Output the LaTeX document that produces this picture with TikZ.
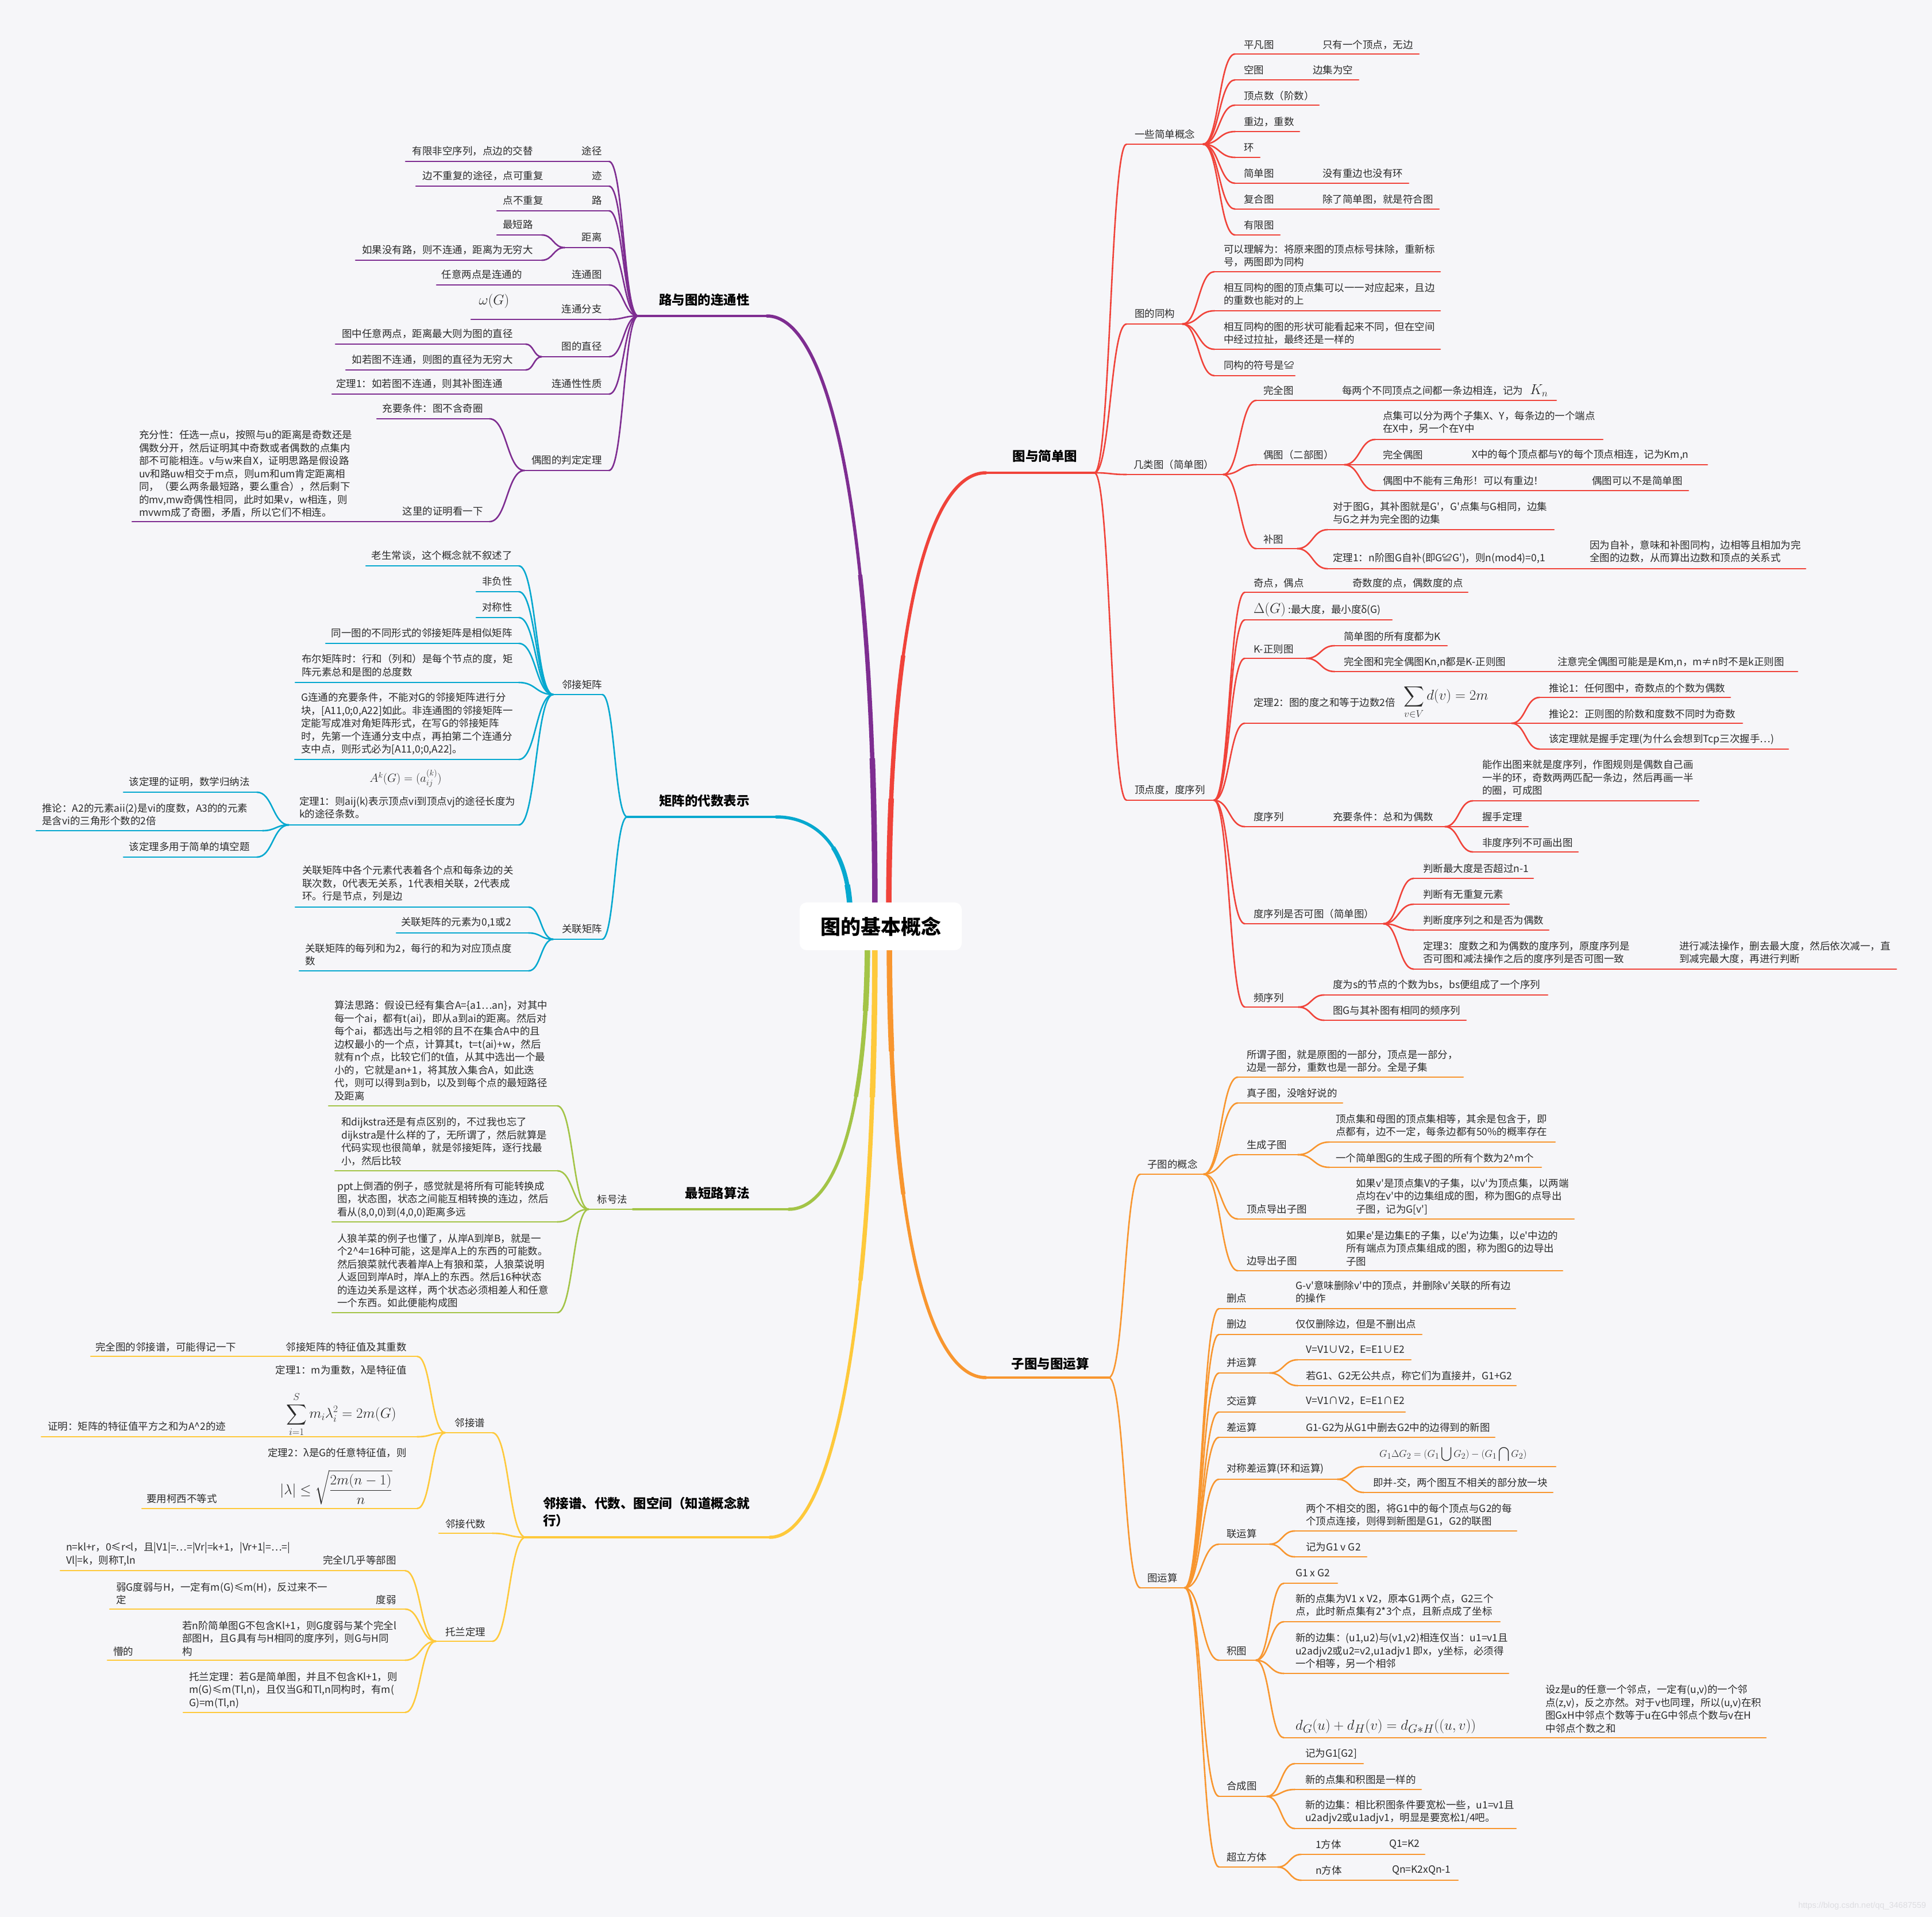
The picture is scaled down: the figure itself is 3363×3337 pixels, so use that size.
\documentclass[tikz,border=0pt]{standalone}
\usepackage{exscale}
\usepackage{fontspec}
\setmainfont{Noto Sans CJK SC}
\newfontfamily\wmfont{Liberation Sans}
\usetikzlibrary{calc}
\definecolor{cP}{HTML}{7E2D91}
\definecolor{cR}{HTML}{F0433A}
\definecolor{cC}{HTML}{06A8CF}
\definecolor{cG}{HTML}{A3C447}
\definecolor{cY}{HTML}{FEC93B}
\definecolor{cO}{HTML}{F8962F}
\definecolor{tx}{HTML}{2A2A2A}
\definecolor{bg}{HTML}{F6F6F9}
\definecolor{wmc}{HTML}{DDDDE1}
\tikzset{
  lf/.style={font=\fontsize{17.5}{22.5}\selectfont, text=tx, inner sep=0pt, align=left},
  tp/.style={font=\fontsize{22.5}{29.6}\selectfont\bfseries, text=black, inner sep=0pt, align=left},
  L/.style={line width=2.6pt, line cap=round},
  L1/.style={line width=4.2pt, line cap=round},
  mth/.style={text=tx, inner sep=0pt}
}
\newcommand\q{\textquotesingle}
\newcommand\MSeg[5]{\coordinate (#1s) at (#3,#5);\coordinate (#1e) at (#4,#5);\draw[#2] (#1s)--(#1e);}
\newcommand\MCn[3]{\draw[#1] let \p1=(#2),\p2=(#3) in (\p1) .. controls ({0.5*\x1+0.5*\x2},\y1) and ({0.5*\x1+0.5*\x2},\y2) .. (\p2);}
% main tapered branch: color, from, to, dash1, dash2
\newcommand\MMain[5]{%
\draw[#1,line width=5.5pt,line cap=round] let \p1=(#2),\p2=(#3) in (\p1) .. controls (\x1,{0.3*\y1+0.7*\y2}) and ({0.55*\x1+0.45*\x2},\y2) .. (\p2);
\draw[#1,line width=7.5pt,dash pattern=on #4pt off 9000pt] let \p1=(#2),\p2=(#3) in (\p1) .. controls (\x1,{0.3*\y1+0.7*\y2}) and ({0.55*\x1+0.45*\x2},\y2) .. (\p2);
\draw[#1,line width=9.5pt,dash pattern=on #5pt off 9000pt] let \p1=(#2),\p2=(#3) in (\p1) .. controls (\x1,{0.3*\y1+0.7*\y2}) and ({0.55*\x1+0.45*\x2},\y2) .. (\p2);}
\newcommand\MTw[4]{\node[lf,anchor=west] (#1) at (#2,#3) {#4};}
\newcommand\MTe[4]{\node[lf,anchor=east] (#1) at (#2,#3) {#4};}
\begin{document}
\begin{tikzpicture}[x=1pt,y=-1pt]
\fill[bg] (0,0) rectangle (3363,3337);
\useasboundingbox (0,0) rectangle (3363,3337);
\coordinate (sP) at (1523,1600);
\coordinate (sR) at (1547,1600);
\coordinate (sC) at (1480,1600);
\coordinate (sG) at (1510,1630);
\coordinate (sY) at (1523,1630);
\coordinate (sO) at (1548,1630);

%% ================= PURPLE =================
\MSeg{pT}{L1,cP}{1111}{1335}{550}
\MMain{cP}{sP}{pTe}{600}{280}
\node[tp] (pTt) at (1226,522) {路与图的连通性};
\MSeg{p1}{L,cP}{706}{1060}{281}
\MTe{p1t}{1048}{263}{途径}
\MTe{p1l}{928}{263}{有限非空序列，点边的交替}
\MSeg{p2}{L,cP}{724}{1060}{324}
\MTe{p2t}{1048}{306}{迹}
\MTe{p2l}{946}{306}{边不重复的途径，点可重复}
\MSeg{p3}{L,cP}{865}{1060}{367}
\MTe{p3t}{1048}{349}{路}
\MTe{p3l}{946}{349}{点不重复}
\MSeg{p4}{L,cP}{983}{1060}{431}
\MTe{p4t}{1048}{413}{距离}
\MSeg{p4a}{L,cP}{865}{943}{409}
\MTe{p4at}{928}{391}{最短路}
\MSeg{p4b}{L,cP}{619}{943}{453}
\MTe{p4bt}{928}{435}{如果没有路，则不连通，距离为无穷大}
\MCn{L,cP}{p4s}{p4ae}
\MCn{L,cP}{p4s}{p4be}
\MSeg{p5}{L,cP}{760}{1060}{496}
\MTe{p5t}{1048}{478}{连通图}
\MTe{p5l}{909}{478}{任意两点是连通的}
\MSeg{p6}{L,cP}{820}{1060}{556}
\MTe{p6t}{1048}{538}{连通分支}
\node[mth,font=\fontsize{25}{25}\selectfont] (p6l) at (860,524) {$\omega(G)$};
\MSeg{p7}{L,cP}{943}{1060}{621}
\MTe{p7t}{1048}{603}{图的直径}
\MSeg{p7a}{L,cP}{584}{915}{599}
\MTe{p7at}{893}{581}{图中任意两点，距离最大则为图的直径}
\MSeg{p7b}{L,cP}{602}{915}{644}
\MTe{p7bt}{893}{626}{如若图不连通，则图的直径为无穷大}
\MCn{L,cP}{p7s}{p7ae}
\MCn{L,cP}{p7s}{p7be}
\MSeg{p8}{L,cP}{578}{1060}{686}
\MTe{p8t}{1048}{668}{连通性性质}
\MTe{p8l}{875}{668}{定理1：如若图不连通，则其补图连通}
\MSeg{p9}{L,cP}{913}{1060}{819}
\MTe{p9t}{1048}{801}{偶图的判定定理}
\MSeg{p9a}{L,cP}{656}{852}{729}
\MTe{p9at}{841}{711}{充要条件：图不含奇圈}
\MSeg{p9b}{L,cP}{230}{852}{908}
\MTe{p9bt}{841}{890}{这里的证明看一下}
\MTw{p9c}{242}{825}{充分性：任选一点u，按照与u的距离是奇数还是\\偶数分开，然后证明其中奇数或者偶数的点集内\\部不可能相连。v与w来自X，证明思路是假设路\\uv和路uw相交于m点，则um和um肯定距离相\\同，（要么两条最短路，要么重合），然后剩下\\的mv,mw奇偶性相同，此时如果v，w相连，则\\mvwm成了奇圈，矛盾，所以它们不相连。}
\MCn{L,cP}{p9s}{p9ae}
\MCn{L,cP}{p9s}{p9be}
\MCn{L,cP}{pTs}{p1e}
\MCn{L,cP}{pTs}{p2e}
\MCn{L,cP}{pTs}{p3e}
\MCn{L,cP}{pTs}{p4e}
\MCn{L,cP}{pTs}{p5e}
\MCn{L,cP}{pTs}{p6e}
\MCn{L,cP}{pTs}{p7e}
\MCn{L,cP}{pTs}{p8e}
\MCn{L,cP}{pTs}{p9e}

%% ================= CYAN =================
\MSeg{cT}{L1,cC}{1092}{1351}{1422}
\MMain{cC}{sC}{cTe}{130}{60}
\node[tp] (cTt) at (1226,1394) {矩阵的代数表示};
\MSeg{c1}{L,cC}{963}{1048}{1209}
\node[lf] (c1t) at (1013,1192) {邻接矩阵};
\MSeg{c1a}{L,cC}{637}{903}{985}
\MTe{c1at}{892}{967}{老生常谈，这个概念就不叙述了}
\MSeg{c1b}{L,cC}{829}{903}{1030}
\MTe{c1bt}{892}{1012}{非负性}
\MSeg{c1c}{L,cC}{829}{903}{1075}
\MTe{c1ct}{892}{1057}{对称性}
\MSeg{c1d}{L,cC}{567}{903}{1120}
\MTe{c1dt}{892}{1102}{同一图的不同形式的邻接矩阵是相似矩阵}
\MSeg{c1e}{L,cC}{514}{903}{1188}
\MTw{c1et}{525}{1158}{布尔矩阵时：行和（列和）是每个节点的度，矩\\阵元素总和是图的总度数}
\MSeg{c1f}{L,cC}{513}{903}{1322}
\MTw{c1ft}{524}{1260}{G连通的充要条件，不能对G的邻接矩阵进行分\\块，[A11,0;0,A22]如此。非连通图的邻接矩阵一\\定能写成准对角矩阵形式，在写G的邻接矩阵\\时，先第一个连通分支中点，再拍第二个连通分\\支中点，则形式必为[A11,0;0,A22]。}
\MSeg{c1g}{L,cC}{503}{903}{1436}
\MTw{c1gt}{521}{1406}{定理1：则aij(k)表示顶点vi到顶点vj的途径长度为\\k的途径条数。}
\node[mth,font=\fontsize{22}{22}\selectfont] (c1gm) at (706,1355) {$A^k(G)=(a_{ij}^{(k)})$};
\MSeg{c1g1}{L,cC}{215}{447}{1379}
\MTe{c1g1t}{435}{1361}{该定理的证明，数学归纳法}
\MSeg{c1g2}{L,cC}{63}{457}{1446}
\MTw{c1g2t}{73}{1418}{推论：A2的元素aii(2)是vi的度数，A3的的元素\\是含vi的三角形个数的2倍}
\MSeg{c1g3}{L,cC}{215}{447}{1492}
\MTe{c1g3t}{435}{1474}{该定理多用于简单的填空题}
\MCn{L,cC}{c1gs}{c1g1e}
\MCn{L,cC}{c1gs}{c1g2e}
\MCn{L,cC}{c1gs}{c1g3e}
\MCn{L,cC}{c1s}{c1ae}
\MCn{L,cC}{c1s}{c1be}
\MCn{L,cC}{c1s}{c1ce}
\MCn{L,cC}{c1s}{c1de}
\MCn{L,cC}{c1s}{c1ee}
\MCn{L,cC}{c1s}{c1fe}
\MCn{L,cC}{c1s}{c1ge}
\MSeg{c2}{L,cC}{963}{1048}{1635}
\node[lf] (c2t) at (1013,1617) {关联矩阵};
\MSeg{c2a}{L,cC}{514}{920}{1579}
\MTw{c2at}{526}{1538}{关联矩阵中各个元素代表着各个点和每条边的关\\联次数，0代表无关系，1代表相关联，2代表成\\环。行是节点，列是边}
\MSeg{c2b}{L,cC}{690}{920}{1624}
\MTe{c2bt}{890}{1606}{关联矩阵的元素为0,1或2}
\MSeg{c2c}{L,cC}{521}{920}{1690}
\MTw{c2ct}{531}{1662}{关联矩阵的每列和为2，每行的和为对应顶点度\\数}
\MCn{L,cC}{c2s}{c2ae}
\MCn{L,cC}{c2s}{c2be}
\MCn{L,cC}{c2s}{c2ce}
\MCn{L,cC}{cTs}{c1e}
\MCn{L,cC}{cTs}{c2e}

%% ================= GREEN =================
\MSeg{gT}{L1,cG}{1102}{1373}{2105}
\MMain{cG}{sG}{gTe}{280}{130}
\node[tp] (gTt) at (1249,2077) {最短路算法};
\MSeg{g1}{L,cG}{1025}{1102}{2105}
\node[lf] (g1t) at (1066,2088) {标号法};
\MSeg{g1a}{L,cG}{572}{970}{1925}
\MTw{g1at}{582}{1829}{算法思路：假设已经有集合A=\{a1…an\}，对其中\\每一个ai，都有t(ai)，即从a到ai的距离。然后对\\每个ai，都选出与之相邻的且不在集合A中的且\\边权最小的一个点，计算其t，t=t(ai)+w，然后\\就有n个点，比较它们的t值，从其中选出一个最\\小的，它就是an+1，将其放入集合A，如此迭\\代，则可以得到a到b，以及到每个点的最短路径\\及距离}
\MSeg{g1b}{L,cG}{583}{970}{2038}
\MTw{g1bt}{594}{1987}{和dijkstra还是有点区别的，不过我也忘了\\dijkstra是什么样的了，无所谓了，然后就算是\\代码实现也很简单，就是邻接矩阵，逐行找最\\小，然后比较}
\MSeg{g1c}{L,cG}{578}{970}{2127}
\MTw{g1ct}{587}{2088}{ppt上倒酒的例子，感觉就是将所有可能转换成\\图，状态图，状态之间能互相转换的连边，然后\\看从(8,0,0)到(4,0,0)距离多远}
\MSeg{g1d}{L,cG}{578}{970}{2285}
\MTw{g1dt}{587}{2212}{人狼羊菜的例子也懂了，从岸A到岸B，就是一\\个2\textasciicircum4=16种可能，这是岸A上的东西的可能数。\\然后狼菜就代表着岸A上有狼和菜，人狼菜说明\\人返回到岸A时，岸A上的东西。然后16种状态\\的连边关系是这样，两个状态必须相差人和任意\\一个东西。如此便能构成图}
\MCn{L,cG}{g1s}{g1ae}
\MCn{L,cG}{g1s}{g1be}
\MCn{L,cG}{g1s}{g1ce}
\MCn{L,cG}{g1s}{g1de}

%% ================= YELLOW =================
\MSeg{yT}{L1,cY}{915}{1340}{2676}
\MMain{cY}{sY}{yTe}{600}{280}
\node[tp,anchor=west] (yTt) at (945,2632) {邻接谱、代数、图空间（知道概念就\\行）};
\MSeg{y1}{L,cY}{775}{857}{2494}
\node[lf] (y1t) at (818,2477) {邻接谱};
\MSeg{y1a}{L,cY}{158}{726}{2361}
\MTe{y1at}{708}{2345}{邻接矩阵的特征值及其重数}
\MTw{y1al}{166}{2345}{完全图的邻接谱，可能得记一下}
\MSeg{y1b}{L,cY}{72}{726}{2501}
\MTe{y1bt}{708}{2385}{定理1：m为重数，λ是特征值}
\node[mth,font=\fontsize{24}{24}\selectfont] (y1bm) at (594,2462) {$\displaystyle\sum_{i=1}^{S} m_i\lambda_i^2=2m(G)$};
\MTw{y1bl}{83}{2483}{证明：矩阵的特征值平方之和为A\textasciicircum2的迹}
\MSeg{y1c}{L,cY}{247}{726}{2626}
\MTe{y1ct}{708}{2529}{定理2：λ是G的任意特征值，则}
\node[mth,font=\fontsize{25}{25}\selectfont] (y1cm) at (585,2589) {$\displaystyle|\lambda|\le\sqrt{\frac{2m(n-1)}{n}}$};
\MTw{y1cl}{255}{2609}{要用柯西不等式}
\MCn{L,cY}{y1s}{y1ae}
\MCn{L,cY}{y1s}{y1be}
\MCn{L,cY}{y1s}{y1ce}
\MSeg{y2}{L,cY}{764}{857}{2669}
\node[lf] (y2t) at (810,2653) {邻接代数};
\MSeg{y3}{L,cY}{759}{857}{2857}
\node[lf] (y3t) at (810,2841) {托兰定理};
\MSeg{y3a}{L,cY}{105}{705}{2734}
\MTe{y3at}{690}{2716}{完全l几乎等部图}
\MTw{y3al}{115}{2706}{n=kl+r，0≤r<l，且|V1|=…=|Vr|=k+1，|Vr+1|=…=|\\Vl|=k，则称T,ln}
\MSeg{y3b}{L,cY}{191}{705}{2801}
\MTe{y3bt}{690}{2785}{度弱}
\MTw{y3bl}{202}{2774}{弱G度弱与H，一定有m(G)≤m(H)，反过来不一\\定}
\MSeg{y3c}{L,cY}{187}{705}{2890}
\MTw{y3ct}{317}{2852}{若n阶简单图G不包含Kl+1，则G度弱与某个完全l\\部图H，且G具有与H相同的度序列，则G与H同\\构}
\MTw{y3cl}{197}{2875}{懵的}
\MSeg{y3d}{L,cY}{319}{705}{2981}
\MTw{y3dt}{329}{2942}{托兰定理：若G是简单图，并且不包含Kl+1，则\\m(G)≤m(Tl,n)，且仅当G和Tl,n同构时，有m(\\G)=m(Tl,n)}
\MCn{L,cY}{y3s}{y3ae}
\MCn{L,cY}{y3s}{y3be}
\MCn{L,cY}{y3s}{y3ce}
\MCn{L,cY}{y3s}{y3de}
\MCn{L,cY}{yTs}{y1e}
\MCn{L,cY}{yTs}{y2e}
\MCn{L,cY}{yTs}{y3e}

%% ================= RED =================
\MSeg{rT}{L1,cR}{1716}{1905}{823}
\MMain{cR}{sR}{rTs}{460}{210}
\node[tp] (rTt) at (1819,794) {图与简单图};
\MSeg{r1}{L,cR}{1961}{2094}{251}
\MTw{r1t}{1975}{234}{一些简单概念}
\MSeg{r1a}{L,cR}{2150}{2470}{94}
\MTw{r1at}{2165}{78}{平凡图}
\MTw{r1al}{2302}{78}{只有一个顶点，无边}
\MSeg{r1b}{L,cR}{2150}{2365}{139}
\MTw{r1bt}{2165}{122}{空图}
\MTw{r1bl}{2285}{122}{边集为空}
\MSeg{r1c}{L,cR}{2150}{2296}{183}
\MTw{r1ct}{2165}{167}{顶点数（阶数）}
\MSeg{r1d}{L,cR}{2150}{2262}{229}
\MTw{r1dt}{2165}{212}{重边，重数}
\MSeg{r1e}{L,cR}{2150}{2193}{274}
\MTw{r1et}{2165}{257}{环}
\MSeg{r1f}{L,cR}{2150}{2452}{319}
\MTw{r1ft}{2165}{302}{简单图}
\MTw{r1fl}{2302}{302}{没有重边也没有环}
\MSeg{r1g}{L,cR}{2150}{2505}{364}
\MTw{r1gt}{2165}{347}{复合图}
\MTw{r1gl}{2302}{347}{除了简单图，就是符合图}
\MSeg{r1h}{L,cR}{2150}{2228}{409}
\MTw{r1ht}{2165}{392}{有限图}
\MCn{L,cR}{r1e}{r1as}
\MCn{L,cR}{r1e}{r1bs}
\MCn{L,cR}{r1e}{r1cs}
\MCn{L,cR}{r1e}{r1ds}
\MCn{L,cR}{r1e}{r1es}
\MCn{L,cR}{r1e}{r1fs}
\MCn{L,cR}{r1e}{r1gs}
\MCn{L,cR}{r1e}{r1hs}
\MSeg{r2}{L,cR}{1961}{2058}{564}
\MTw{r2t}{1975}{546}{图的同构}
\MSeg{r2a}{L,cR}{2114}{2507}{473}
\MTw{r2at}{2130}{445}{可以理解为：将原来图的顶点标号抹除，重新标\\号，两图即为同构}
\MSeg{r2b}{L,cR}{2114}{2507}{541}
\MTw{r2bt}{2130}{512}{相互同构的图的顶点集可以一一对应起来，且边\\的重数也能对的上}
\MSeg{r2c}{L,cR}{2114}{2507}{608}
\MTw{r2ct}{2130}{580}{相互同构的图的形状可能看起来不同，但在空间\\中经过拉扯，最终还是一样的}
\MSeg{r2d}{L,cR}{2114}{2254}{654}
\MTw{r2dt}{2130}{636}{同构的符号是≌}
\MCn{L,cR}{r2e}{r2as}
\MCn{L,cR}{r2e}{r2bs}
\MCn{L,cR}{r2e}{r2cs}
\MCn{L,cR}{r2e}{r2ds}
\MSeg{r3}{L,cR}{1961}{2129}{826}
\MTw{r3t}{1973}{809}{几类图（简单图）}
\MSeg{r3a}{L,cR}{2187}{2709}{697}
\MTw{r3at}{2199}{680}{完全图}
\node[lf,anchor=base west] (r3al) at (2336,686.5) {每两个不同顶点之间都一条边相连，记为\hspace{12pt}{\fontsize{25}{25}\selectfont$K_n$}};
\MSeg{r3b}{L,cR}{2187}{2340}{809}
\MTw{r3bt}{2199}{792}{偶图（二部图）}
\MSeg{r3b1}{L,cR}{2394}{2790}{765}
\MTw{r3b1t}{2407}{735}{点集可以分为两个子集X、Y，每条边的一个端点\\在X中，另一个在Y中}
\MSeg{r3b2}{L,cR}{2394}{2972}{809}
\MTw{r3b2t}{2407}{792}{完全偶图}
\MTw{r3b2l}{2562}{792}{X中的每个顶点都与Y的每个顶点相连，记为Km,n}
\MSeg{r3b3}{L,cR}{2394}{2939}{854}
\MTw{r3b3t}{2407}{837}{偶图中不能有三角形！可以有重边！}
\MTw{r3b3l}{2771}{837}{偶图可以不是简单图}
\MCn{L,cR}{r3be}{r3b1s}
\MCn{L,cR}{r3be}{r3b2s}
\MCn{L,cR}{r3be}{r3b3s}
\MSeg{r3c}{L,cR}{2187}{2258}{955}
\MTw{r3ct}{2199}{939}{补图}
\MSeg{r3c1}{L,cR}{2311}{2705}{922}
\MTw{r3c1t}{2320}{893}{对于图G，其补图就是G\q，G\q 点集与G相同，边集\\与G之并为完全图的边集}
\MSeg{r3c2}{L,cR}{2311}{3143}{990}
\MTw{r3c2t}{2320}{972}{定理1：n阶图G自补(即G≌G\q)，则n(mod4)=0,1}
\MTw{r3c2l}{2767}{960}{因为自补，意味和补图同构，边相等且相加为完\\全图的边数，从而算出边数和顶点的关系式}
\MCn{L,cR}{r3ce}{r3c1s}
\MCn{L,cR}{r3ce}{r3c2s}
\MCn{L,cR}{r3e}{r3as}
\MCn{L,cR}{r3e}{r3bs}
\MCn{L,cR}{r3e}{r3cs}
\MSeg{r4}{L,cR}{1961}{2113}{1393}
\MTw{r4t}{1975}{1375}{顶点度，度序列}
\MSeg{r4a}{L,cR}{2167}{2555}{1031}
\MTw{r4at}{2182}{1015}{奇点，偶点}
\MTw{r4al}{2354}{1015}{奇数度的点，偶数度的点}
\MSeg{r4b}{L,cR}{2167}{2423}{1079}
\node[lf,anchor=base west] (r4bt) at (2182,1067) {{\fontsize{25}{25}\selectfont$\Delta(G)$}\ :最大度，最小度δ(G)};
\MSeg{r4c}{L,cR}{2167}{2274}{1146}
\MTw{r4ct}{2182}{1130}{K-正则图}
\MSeg{r4c1}{L,cR}{2323}{2519}{1124}
\MTw{r4c1t}{2339}{1108}{简单图的所有度都为K}
\MSeg{r4c2}{L,cR}{2323}{3129}{1169}
\MTw{r4c2t}{2339}{1153}{完全图和完全偶图Kn,n都是K-正则图}
\MTw{r4c2l}{2711}{1153}{注意完全偶图可能是是Km,n，m≠n时不是k正则图}
\MCn{L,cR}{r4ce}{r4c1s}
\MCn{L,cR}{r4ce}{r4c2s}
\MSeg{r4d}{L,cR}{2167}{2631}{1259}
\MTw{r4dt}{2182}{1223}{定理2：图的度之和等于边数2倍}
\node[mth,font=\fontsize{25}{25}\selectfont,anchor=west] (r4dm) at (2443,1222) {$\displaystyle\sum_{v\in V} d(v)=2m$};
\MSeg{r4d1}{L,cR}{2680}{3012}{1214}
\MTw{r4d1t}{2696}{1198}{推论1：任何图中，奇数点的个数为偶数}
\MSeg{r4d2}{L,cR}{2680}{3033}{1259}
\MTw{r4d2t}{2696}{1243}{推论2：正则图的阶数和度数不同时为奇数}
\MSeg{r4d3}{L,cR}{2680}{3113}{1304}
\MTw{r4d3t}{2696}{1287}{该定理就是握手定理(为什么会想到Tcp三次握手…)}
\MCn{L,cR}{r4de}{r4d1s}
\MCn{L,cR}{r4de}{r4d2s}
\MCn{L,cR}{r4de}{r4d3s}
\MSeg{r4e}{L,cR}{2167}{2515}{1439}
\MTw{r4et}{2182}{1422}{度序列}
\MTw{r4el}{2320}{1422}{充要条件：总和为偶数}
\MSeg{r4e1}{L,cR}{2564}{2957}{1394}
\MTw{r4e1t}{2580}{1354}{能作出图来就是度序列，作图规则是偶数自己画\\一半的环，奇数两两匹配一条边，然后再画一半\\的圈，可成图}
\MSeg{r4e2}{L,cR}{2564}{2660}{1439}
\MTw{r4e2t}{2580}{1422}{握手定理}
\MSeg{r4e3}{L,cR}{2564}{2747}{1483}
\MTw{r4e3t}{2580}{1467}{非度序列不可画出图}
\MCn{L,cR}{r4ee}{r4e1s}
\MCn{L,cR}{r4ee}{r4e2s}
\MCn{L,cR}{r4ee}{r4e3s}
\MSeg{r4f}{L,cR}{2167}{2408}{1608}
\MTw{r4ft}{2182}{1591}{度序列是否可图（简单图）}
\MSeg{r4f1}{L,cR}{2461}{2669}{1529}
\MTw{r4f1t}{2477}{1512}{判断最大度是否超过n-1}
\MSeg{r4f2}{L,cR}{2461}{2627}{1574}
\MTw{r4f2t}{2477}{1557}{判断有无重复元素}
\MSeg{r4f3}{L,cR}{2461}{2696}{1619}
\MTw{r4f3t}{2477}{1602}{判断度序列之和是否为偶数}
\MSeg{r4f4}{L,cR}{2461}{3301}{1687}
\MTw{r4f4t}{2477}{1658}{定理3：度数之和为偶数的度序列，原度序列是\\否可图和减法操作之后的度序列是否可图一致}
\MTw{r4f4l}{2923}{1658}{进行减法操作，删去最大度，然后依次减一，直\\到减完最大度，再进行判断}
\MCn{L,cR}{r4fe}{r4f1s}
\MCn{L,cR}{r4fe}{r4f2s}
\MCn{L,cR}{r4fe}{r4f3s}
\MCn{L,cR}{r4fe}{r4f4s}
\MSeg{r4g}{L,cR}{2167}{2260}{1753}
\MTw{r4gt}{2182}{1737}{频序列}
\MSeg{r4g1}{L,cR}{2305}{2694}{1732}
\MTw{r4g1t}{2320}{1714}{度为s的节点的个数为bs，bs便组成了一个序列}
\MSeg{r4g2}{L,cR}{2305}{2552}{1776}
\MTw{r4g2t}{2320}{1759}{图G与其补图有相同的频序列}
\MCn{L,cR}{r4ge}{r4g1s}
\MCn{L,cR}{r4ge}{r4g2s}
\MCn{L,cR}{r4e}{r4as}
\MCn{L,cR}{r4e}{r4bs}
\MCn{L,cR}{r4e}{r4cs}
\MCn{L,cR}{r4e}{r4ds}
\MCn{L,cR}{r4e}{r4es}
\MCn{L,cR}{r4e}{r4fs}
\MCn{L,cR}{r4e}{r4gs}
\MCn{L,cR}{rTe}{r1s}
\MCn{L,cR}{rTe}{r2s}
\MCn{L,cR}{rTe}{r3s}
\MCn{L,cR}{rTe}{r4s}

%% ================= ORANGE =================
\MSeg{oT}{L1,cO}{1716}{1930}{2398}
\MMain{cO}{sO}{oTs}{450}{200}
\node[tp] (oTt) at (1828,2374) {子图与图运算};
\MSeg{o1}{L,cO}{1985}{2095}{2044}
\MTw{o1t}{1997}{2027}{子图的概念}
\MSeg{o1a}{L,cO}{2155}{2547}{1875}
\MTw{o1at}{2170}{1847}{所谓子图，就是原图的一部分，顶点是一部分，\\边是一部分，重数也是一部分。全是子集}
\MSeg{o1b}{L,cO}{2155}{2337}{1920}
\MTw{o1bt}{2170}{1903}{真子图，没啥好说的}
\MSeg{o1c}{L,cO}{2155}{2259}{2010}
\MTw{o1ct}{2170}{1993}{生成子图}
\MSeg{o1c1}{L,cO}{2314}{2707}{1988}
\MTw{o1c1t}{2325}{1959}{顶点集和母图的顶点集相等，其余是包含于，即\\点都有，边不一定，每条边都有50\%的概率存在}
\MSeg{o1c2}{L,cO}{2314}{2683}{2032}
\MTw{o1c2t}{2325}{2016}{一个简单图G的生成子图的所有个数为2\textasciicircum m个}
\MCn{L,cO}{o1ce}{o1c1s}
\MCn{L,cO}{o1ce}{o1c2s}
\MSeg{o1d}{L,cO}{2155}{2740}{2122}
\MTw{o1dt}{2170}{2105}{顶点导出子图}
\MTw{o1dl}{2360}{2083}{如果v\q 是顶点集V的子集，以v\q 为顶点集，以两端\\点均在v\q 中的边集组成的图，称为图G的点导出\\子图，记为G[v\q]}
\MSeg{o1e}{L,cO}{2155}{2720}{2212}
\MTw{o1et}{2170}{2195}{边导出子图}
\MTw{o1el}{2343}{2173}{如果e\q 是边集E的子集，以e\q 为边集，以e\q 中边的\\所有端点为顶点集组成的图，称为图G的边导出\\子图}
\MCn{L,cO}{o1e}{o1as}
\MCn{L,cO}{o1e}{o1bs}
\MCn{L,cO}{o1e}{o1cs}
\MCn{L,cO}{o1e}{o1ds}
\MCn{L,cO}{o1e}{o1es}
\MSeg{o2}{L,cO}{1985}{2062}{2764}
\MTw{o2t}{1997}{2747}{图运算}
\MSeg{o2a}{L,cO}{2122}{2638}{2278}
\MTw{o2at}{2135}{2260}{删点}
\MTw{o2al}{2255}{2249}{G-v\q 意味删除v\q 中的顶点，并删除v\q 关联的所有边\\的操作}
\MSeg{o2b}{L,cO}{2122}{2475}{2323}
\MTw{o2bt}{2135}{2305}{删边}
\MTw{o2bl}{2255}{2305}{仅仅删除边，但是不删出点}
\MSeg{o2c}{L,cO}{2122}{2210}{2390}
\MTw{o2ct}{2135}{2372}{并运算}
\MSeg{o2c1}{L,cO}{2259}{2456}{2367}
\MTw{o2c1t}{2273}{2350}{V=V1∪V2，E=E1∪E2}
\MSeg{o2c2}{L,cO}{2259}{2639}{2412}
\MTw{o2c2t}{2273}{2395}{若G1、G2无公共点，称它们为直接并，G1+G2}
\MCn{L,cO}{o2ce}{o2c1s}
\MCn{L,cO}{o2ce}{o2c2s}
\MSeg{o2d}{L,cO}{2122}{2446}{2458}
\MTw{o2dt}{2135}{2439}{交运算}
\MTw{o2dl}{2273}{2439}{V=V1∩V2，E=E1∩E2}
\MSeg{o2e}{L,cO}{2122}{2602}{2502}
\MTw{o2et}{2135}{2485}{差运算}
\MTw{o2el}{2273}{2485}{G1-G2为从G1中删去G2中的边得到的新图}
\MSeg{o2f}{L,cO}{2122}{2328}{2575}
\MTw{o2ft}{2135}{2557}{对称差运算(环和运算)}
\MSeg{o2f1}{L,cO}{2374}{2708}{2553}
\node[mth,font=\fontsize{19}{19}\selectfont,anchor=west] (o2f1m) at (2401,2532) {$\displaystyle G_1\Delta G_2=(G_1\bigcup G_2)-(G_1\bigcap G_2)$};
\MSeg{o2f2}{L,cO}{2374}{2703}{2598}
\MTw{o2f2t}{2390}{2581}{即并-交，两个图互不相关的部分放一块}
\MCn{L,cO}{o2fe}{o2f1s}
\MCn{L,cO}{o2fe}{o2f2s}
\MSeg{o2g}{L,cO}{2122}{2210}{2688}
\MTw{o2gt}{2135}{2670}{联运算}
\MSeg{o2g1}{L,cO}{2254}{2640}{2665}
\MTw{o2g1t}{2273}{2637}{两个不相交的图，将G1中的每个顶点与G2的每\\个顶点连接，则得到新图是G1，G2的联图}
\MSeg{o2g2}{L,cO}{2254}{2379}{2710}
\MTw{o2g2t}{2273}{2693}{记为G1 v G2}
\MCn{L,cO}{o2ge}{o2g1s}
\MCn{L,cO}{o2ge}{o2g2s}
\MSeg{o2h}{L,cO}{2122}{2186}{2890}
\MTw{o2ht}{2135}{2874}{积图}
\MSeg{o2h1}{L,cO}{2235}{2328}{2756}
\MTw{o2h1t}{2255}{2738}{G1 x G2}
\MSeg{o2h2}{L,cO}{2235}{2611}{2823}
\MTw{o2h2t}{2255}{2794}{新的点集为V1 x V2，原本G1两个点，G2三个\\点，此时新点集有2*3个点，且新点成了坐标}
\MSeg{o2h3}{L,cO}{2235}{2626}{2913}
\MTw{o2h3t}{2255}{2874}{新的边集：(u1,u2)与(v1,v2)相连仅当：u1=v1且\\u2adjv2或u2=v2,u1adjv1 即x，y坐标，必须得\\一个相等，另一个相邻}
\MSeg{o2h4}{L,cO}{2235}{3074}{3025}
\node[mth,font=\fontsize{29}{29}\selectfont,anchor=west] (o2h4m) at (2255,3005) {$d_G(u)+d_H(v)=d_{G*H}((u,v))$};
\MTw{o2h4l}{2690}{2975}{设z是u的任意一个邻点，一定有(u,v)的一个邻\\点(z,v)，反之亦然。对于v也同理，所以(u,v)在积\\图GxH中邻点个数等于u在G中邻点个数与v在H\\中邻点个数之和}
\MCn{L,cO}{o2he}{o2h1s}
\MCn{L,cO}{o2he}{o2h2s}
\MCn{L,cO}{o2he}{o2h3s}
\MCn{L,cO}{o2he}{o2h4s}
\MSeg{o2i}{L,cO}{2122}{2205}{3127}
\MTw{o2it}{2135}{3109}{合成图}
\MSeg{o2i1}{L,cO}{2254}{2373}{3070}
\MTw{o2i1t}{2272}{3053}{记为G1[G2]}
\MSeg{o2i2}{L,cO}{2254}{2474}{3115}
\MTw{o2i2t}{2272}{3098}{新的点集和积图是一样的}
\MSeg{o2i3}{L,cO}{2254}{2639}{3183}
\MTw{o2i3t}{2272}{3154}{新的边集：相比积图条件要宽松一些，u1=v1且\\u2adjv2或u1adjv1，明显是要宽松1/4吧。}
\MCn{L,cO}{o2ie}{o2i1s}
\MCn{L,cO}{o2ie}{o2i2s}
\MCn{L,cO}{o2ie}{o2i3s}
\MSeg{o2j}{L,cO}{2122}{2224}{3250}
\MTw{o2jt}{2135}{3233}{超立方体}
\MSeg{o2j1}{L,cO}{2265}{2480}{3228}
\MTw{o2j1t}{2290}{3211}{1方体}
\MTw{o2j1l}{2418}{3211}{Q1=K2}
\MSeg{o2j2}{L,cO}{2265}{2538}{3273}
\MTw{o2j2t}{2290}{3256}{n方体}
\MTw{o2j2l}{2423}{3256}{Qn=K2xQn-1}
\MCn{L,cO}{o2je}{o2j1s}
\MCn{L,cO}{o2je}{o2j2s}
\MCn{L,cO}{o2e}{o2as}
\MCn{L,cO}{o2e}{o2bs}
\MCn{L,cO}{o2e}{o2cs}
\MCn{L,cO}{o2e}{o2ds}
\MCn{L,cO}{o2e}{o2es}
\MCn{L,cO}{o2e}{o2fs}
\MCn{L,cO}{o2e}{o2gs}
\MCn{L,cO}{o2e}{o2hs}
\MCn{L,cO}{o2e}{o2is}
\MCn{L,cO}{o2e}{o2js}
\MCn{L,cO}{oTe}{o1s}
\MCn{L,cO}{oTe}{o2s}

%% ================= ROOT =================
\node[fill=white, rounded corners=12pt, minimum width=282pt, minimum height=83pt, inner sep=0pt, font=\fontsize{35}{35}\selectfont\bfseries, text=black] (root) at (1533,1612.5) {图的基本概念};
\node[font=\wmfont\fontsize{14.5}{14.5}\selectfont, text=wmc, inner sep=0pt, anchor=east] (wm) at (3353,3318) {https://blog.csdn.net/qq\_34687559};
\end{tikzpicture}
\end{document}
